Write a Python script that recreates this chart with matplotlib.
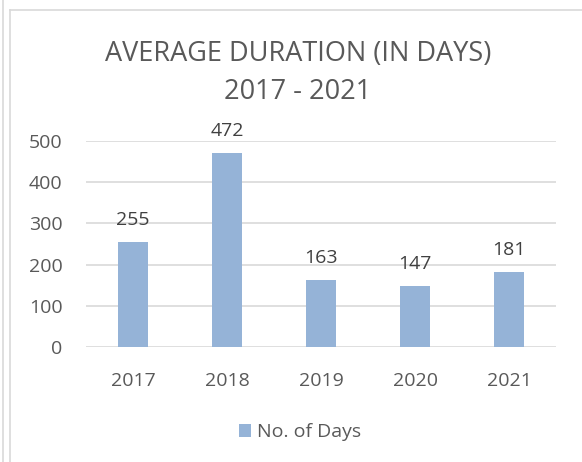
import matplotlib.pyplot as plt
from matplotlib.lines import Line2D

# chart data
years = ["2017", "2018", "2019", "2020", "2021"]
days = [255, 472, 163, 147, 181]
y_ticks = [0, 100, 200, 300, 400, 500]

plt.rcParams['font.family'] = ['Open Sans', 'DejaVu Sans']
TEXT = "#595959"
LABEL = "#404040"
GRID = "#D9D9D9"
BAR = "#95B3D7"

W, H = 582, 462
fig = plt.figure(figsize=(W / 100, H / 100), dpi=100)

# plot area in pixel coords
left, right, top, bottom = 86, 556, 141, 347
ax = fig.add_axes([left / W, 1 - bottom / H, (right - left) / W, (bottom - top) / H])

x = range(len(years))
bars = ax.bar(x, days, width=0.32, color=BAR, label="No. of Days", zorder=3)
for xi, v in zip(x, days):
    ax.annotate(str(v), (xi, v), xytext=(0, 17), textcoords="offset pixels",
                ha="center", va="baseline", fontsize=14, color=LABEL)

ax.set_xlim(-0.5, len(years) - 0.5)
ax.set_ylim(0, 500)
ax.set_yticks(y_ticks)
ax.set_xticks(list(x))
ax.set_xticklabels(years)
ax.tick_params(axis="both", length=0, labelsize=14, labelcolor=TEXT)
ax.tick_params(axis="x", pad=18)
ax.tick_params(axis="y", pad=17)
ax.grid(axis="y", color=GRID, linewidth=1.2, zorder=0)
for s in ax.spines.values():
    s.set_visible(False)

fig.text(298 / W, 1 - 54 / H, "AVERAGE DURATION (IN DAYS)", ha="center", va="center",
         fontsize=19.5, color=TEXT)
fig.text(298 / W, 1 - 92 / H, "2017 - 2021", ha="center", va="center",
         fontsize=19.5, color=TEXT)

fig.legend(handles=[bars], loc="center", bbox_to_anchor=(300 / W, 1 - 432 / H),
           frameon=False, fontsize=14, labelcolor=TEXT, handlelength=0.65,
           handleheight=0.65, handletextpad=0.3)

# chart frame lines
fig.add_artist(Line2D([3 / W, 3 / W], [0, 1], color=GRID, linewidth=1.2))
fig.add_artist(Line2D([9.5 / W, 9.5 / W], [0, 1 - 10 / H], color=GRID, linewidth=1.2))
fig.add_artist(Line2D([9.5 / W, 1], [1 - 10 / H, 1 - 10 / H], color=GRID, linewidth=1.2))

fig.savefig("out.png", dpi=100)
